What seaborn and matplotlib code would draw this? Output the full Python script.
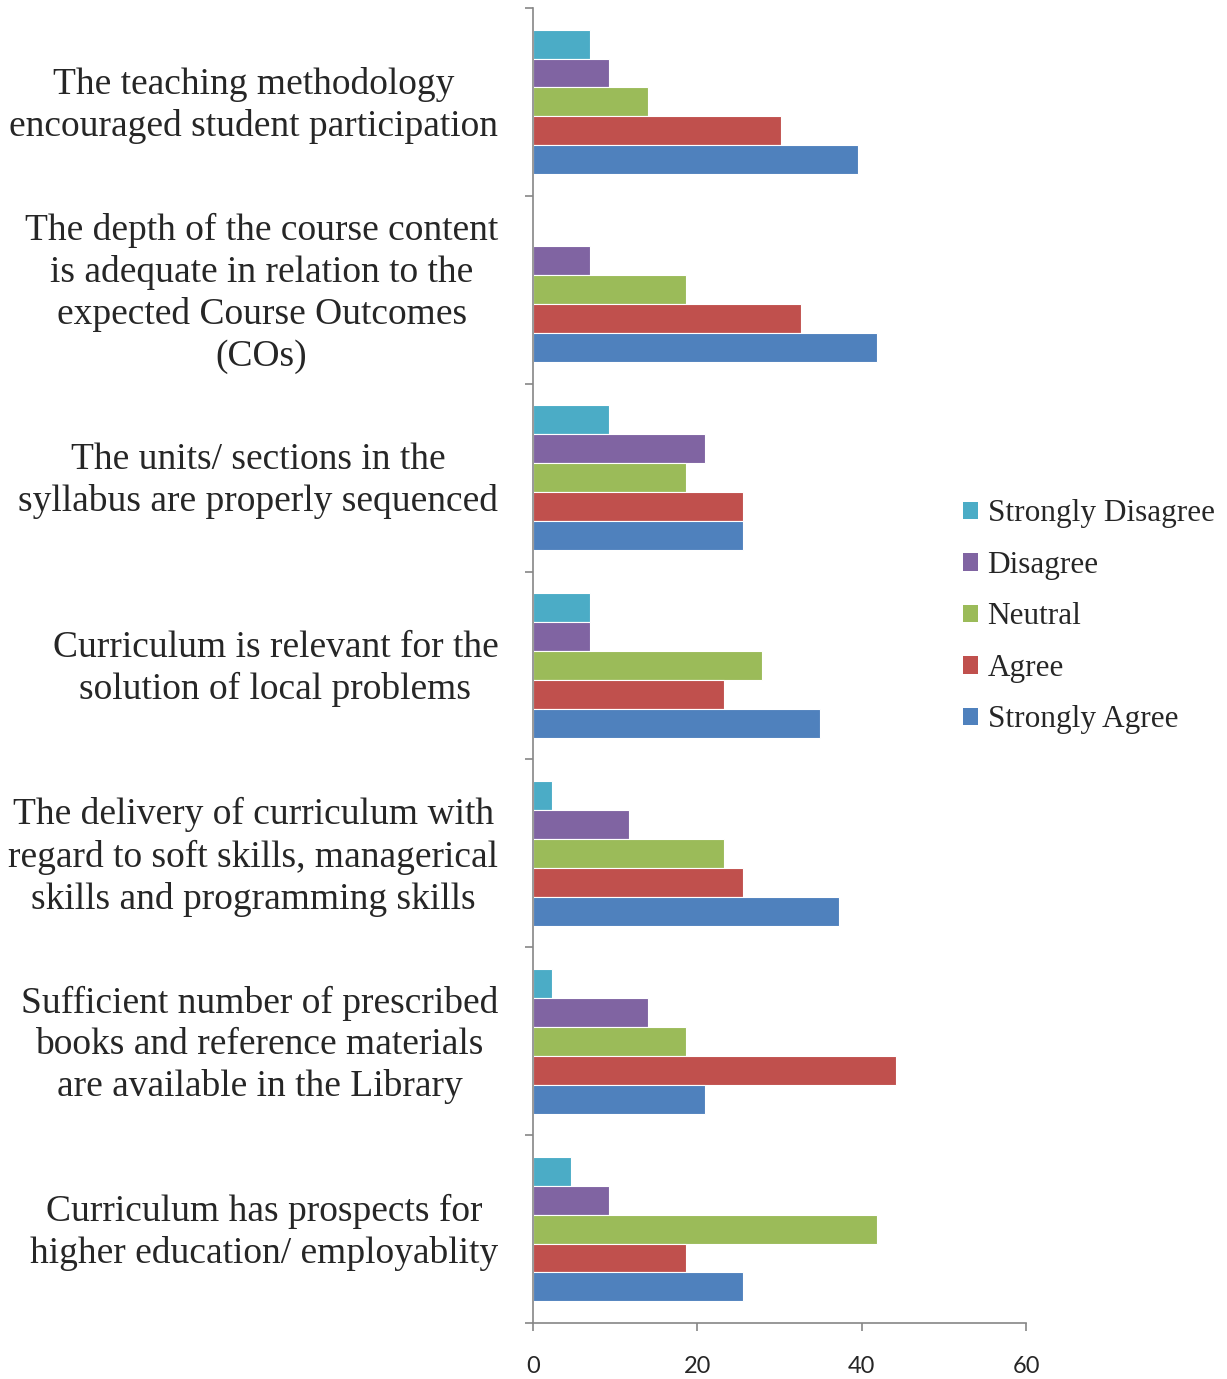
import matplotlib
matplotlib.use("Agg")
import matplotlib.pyplot as plt
import matplotlib.transforms as mtransforms
import seaborn as sns
import pandas as pd
import numpy as np
from matplotlib.patches import Patch

categories = [
    "The teaching methodology\nencouraged student participation",
    "The depth of the course content\nis adequate in relation to the\nexpected Course Outcomes\n(COs)",
    "The units/ sections in the\nsyllabus are properly sequenced",
    "Curriculum is relevant for the\nsolution of local problems",
    "The delivery of curriculum with\nregard to soft skills, managerical\nskills and programming skills",
    "Sufficient number of prescribed\nbooks and reference materials\nare available in the Library",
    "Curriculum has prospects for\nhigher education/ employablity",
]
series = ["Strongly Disagree", "Disagree", "Neutral", "Agree", "Strongly Agree"]
strongly_disagree = [6.98, 0.0, 9.30, 6.98, 2.33, 2.33, 4.65]
disagree = [9.30, 6.98, 20.93, 6.98, 11.63, 13.95, 9.30]
neutral = [13.95, 18.60, 18.60, 27.91, 23.26, 18.60, 41.86]
agree = [30.23, 32.56, 25.58, 23.26, 25.58, 44.19, 18.60]
strongly_agree = [39.53, 41.86, 25.58, 34.88, 37.21, 20.93, 25.58]
x_ticks = [0, 20, 40, 60]

colors = ["#4BACC6", "#8064A2", "#9BBB59", "#C0504D", "#4F81BD"]

rows = []
for s, vals in zip(series, [strongly_disagree, disagree, neutral, agree, strongly_agree]):
    for c, v in zip(categories, vals):
        rows.append({"category": c, "series": s, "value": v})
df = pd.DataFrame(rows)

sns.set_style("white")
plt.rcParams["font.family"] = ["Liberation Serif", "DejaVu Serif"]

fig = plt.figure(figsize=(12.27, 13.79), dpi=100)
ax = fig.add_axes([533/1227, 1 - 1323/1379, (1026 - 533)/1227, (1323 - 8)/1379])

sns.barplot(data=df, y="category", x="value", hue="series", order=categories,
            hue_order=series, palette=colors, orient="h", width=0.77,
            edgecolor="white", linewidth=0.8, saturation=1, ax=ax, legend=False)

ax.set_xlim(0, 60)
ax.set_ylim(len(categories) - 0.5, -0.5)
ax.set_xlabel("")
ax.set_ylabel("")

spine_col = "#868686"
for side in ["top", "right"]:
    ax.spines[side].set_visible(False)
for side in ["left", "bottom"]:
    ax.spines[side].set_color(spine_col)
    ax.spines[side].set_linewidth(1.2)

ax.set_xticks(x_ticks)
ax.set_xticklabels([str(t) for t in x_ticks], fontsize=17, family=["Lato", "DejaVu Sans"])
ax.tick_params(axis="x", which="major", bottom=True, direction="out", length=5.8,
               width=1.2, color=spine_col, pad=18)

ax.set_yticks(range(len(categories)))
ax.set_yticklabels(categories, fontsize=27)
ax.set_yticks(np.arange(-0.5, len(categories), 1.0), minor=True)
ax.tick_params(axis="y", which="major", left=False, length=0, pad=25)
ax.tick_params(axis="y", which="minor", left=True, direction="out", length=5.8,
               width=1.2, color=spine_col)
shift = mtransforms.ScaledTranslation(0, 4/100, fig.dpi_scale_trans)
for t in ax.get_yticklabels():
    t.set_multialignment("center")
    t.set_linespacing(1.26)
    t.set_transform(t.get_transform() + shift)

handles = [Patch(facecolor=c, edgecolor="none") for c in colors]
fig.legend(handles, series, loc="center left", bbox_to_anchor=(950/1227, 1 - 617/1379),
           frameon=False, fontsize=22.5, handlelength=0.5, handleheight=0.5,
           handletextpad=0.3, labelspacing=0.72, borderaxespad=0)

fig.savefig("out.png", dpi=100)
